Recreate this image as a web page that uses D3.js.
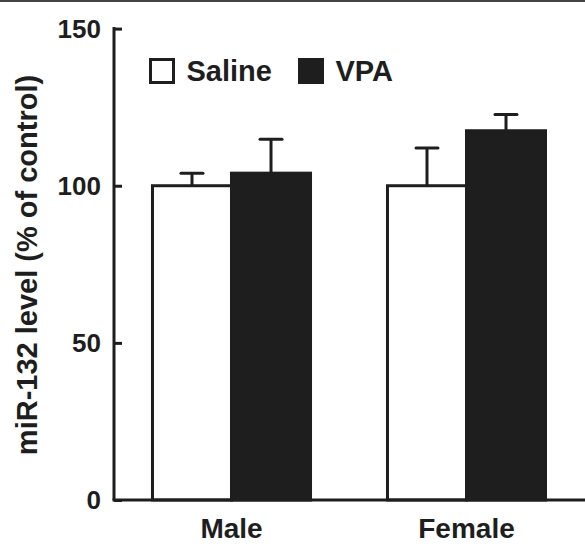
<!DOCTYPE html>
<html>
<head>
<meta charset="utf-8">
<script src="https://cdn.jsdelivr.net/npm/d3@7"></script>
<style>
body { margin: 0; background: #fff; }
svg { display: block; }
text { font-family: "Liberation Sans", Arial, sans-serif; font-weight: bold; fill: #1e1e1e; }
</style>
</head>
<body>
<svg width="585" height="544"></svg>
<script>
var groups = ["Male", "Female"];
var treatments = ["Saline", "VPA"];
var salineMean = [100, 100];
var salineErr = [4, 12];
var vpaMean = [104, 117.5];
var vpaErr = [10.8, 5.2];
var yTicks = [0, 50, 100, 150];

var svg = d3.select("svg");

var axisX = 114;
var axisBottom = 500;
var dark = "#1e1e1e";

// top frame line
svg.append("line")
    .attr("x1", 0).attr("x2", 585)
    .attr("y1", 1).attr("y2", 1)
    .attr("stroke", "#444").attr("stroke-width", 2);

var Yscale = d3.scaleLinear()
    .domain([0, 150])
    .range([axisBottom, 28.6]);

var Xscale = d3.scaleBand()
    .domain(groups)
    .range([axisX, axisX + 470]);

var subScale = d3.scaleBand()
    .domain(treatments)
    .range([0, Xscale.bandwidth()])
    .paddingInner(0)
    .paddingOuter(0.487);

var rows = [];
for (var i = 0; i < groups.length; i++) {
    rows.push({group: groups[i], t: "Saline", mean: salineMean[i], err: salineErr[i]});
    rows.push({group: groups[i], t: "VPA", mean: vpaMean[i], err: vpaErr[i]});
}

function barX(d) { return Xscale(d.group) + subScale(d.t); }
function barMid(d) { return barX(d) + subScale.bandwidth() / 2; }

// error bars (upper only)
var err = svg.append("g")
    .attr("stroke", dark)
    .attr("stroke-width", 3);

err.selectAll(".stem")
    .data(rows)
    .enter()
    .append("line")
    .attr("x1", barMid).attr("x2", barMid)
    .attr("y1", function(d) { return Yscale(d.mean); })
    .attr("y2", function(d) { return Yscale(d.mean + d.err); });

err.selectAll(".cap")
    .data(rows)
    .enter()
    .append("line")
    .attr("stroke-linecap", "round")
    .attr("x1", function(d) { return barMid(d) - 11; })
    .attr("x2", function(d) { return barMid(d) + 11; })
    .attr("y1", function(d) { return Yscale(d.mean + d.err); })
    .attr("y2", function(d) { return Yscale(d.mean + d.err); });

// bars
svg.selectAll("rect.bar")
    .data(rows)
    .enter()
    .append("rect")
    .attr("class", "bar")
    .attr("x", barX)
    .attr("y", function(d) { return Yscale(d.mean); })
    .attr("width", subScale.bandwidth())
    .attr("height", function(d) { return axisBottom - Yscale(d.mean); })
    .attr("fill", function(d) { return d.t == "VPA" ? dark : "#fff"; })
    .attr("stroke", dark)
    .attr("stroke-width", 3);

// Y axis, ticks pointing inward
var yaxis = d3.axisRight(Yscale)
    .tickValues(yTicks)
    .tickSize(8)
    .tickFormat("");
var yg = svg.append("g")
    .attr("transform", "translate(" + axisX + ",0)")
    .call(yaxis);
yg.select(".domain").remove();
yg.selectAll("line").attr("stroke", dark).attr("stroke-width", 3);
yg.append("line")
    .attr("x1", 0).attr("x2", 0)
    .attr("y1", Yscale(150) - 1.5).attr("y2", axisBottom)
    .attr("stroke", dark).attr("stroke-width", 3);

svg.selectAll(".ylab")
    .data(yTicks)
    .enter()
    .append("text")
    .attr("x", 101)
    .attr("y", function(d) { return Yscale(d); })
    .attr("dy", "0.36em")
    .style("text-anchor", "end")
    .style("font-size", "26px")
    .text(function(d) { return d; });

// X axis
svg.append("line")
    .attr("x1", axisX - 1.5).attr("x2", 585)
    .attr("y1", axisBottom).attr("y2", axisBottom)
    .attr("stroke", dark).attr("stroke-width", 3);

svg.selectAll(".xlab")
    .data(groups)
    .enter()
    .append("text")
    .attr("x", function(d) { return Xscale(d) + Xscale.bandwidth() / 2; })
    .attr("y", 538)
    .style("text-anchor", "middle")
    .style("font-size", "28px")
    .text(function(d) { return d; });

// Y axis label
svg.append("text")
    .attr("transform", "translate(37,265) rotate(-90)")
    .style("text-anchor", "middle")
    .style("font-size", "29px")
    .text("miR-132 level (% of control)");

// legend
var legend = svg.append("g");
var legendX = [150.5, 299.5];
legend.selectAll("rect")
    .data(treatments)
    .enter()
    .append("rect")
    .attr("x", function(d, i) { return legendX[i]; })
    .attr("y", 59.5)
    .attr("width", 23)
    .attr("height", 23)
    .attr("fill", function(d) { return d == "VPA" ? dark : "#fff"; })
    .attr("stroke", dark)
    .attr("stroke-width", 3);

legend.selectAll("text")
    .data(treatments)
    .enter()
    .append("text")
    .attr("x", function(d, i) { return legendX[i] + 36; })
    .attr("y", 81)
    .style("font-size", "29px")
    .text(function(d) { return d; });
</script>
</body>
</html>
